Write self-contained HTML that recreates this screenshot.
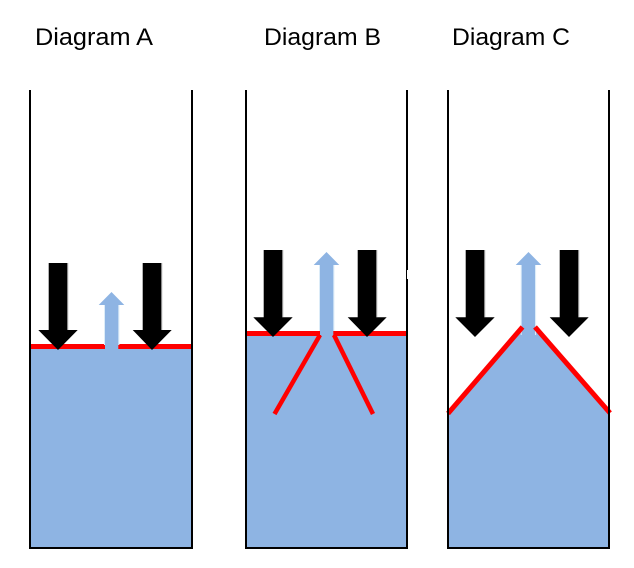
<!DOCTYPE html>
<html>
<head>
<meta charset="utf-8">
<style>
html,body{margin:0;padding:0;background:#fff;width:634px;height:568px;overflow:hidden}
svg{display:block}
text{font-family:"Liberation Sans",sans-serif;font-size:24px;fill:#000}
</style>
</head>
<body>
<svg width="634" height="568" viewBox="0 0 634 568" xmlns="http://www.w3.org/2000/svg">
<rect width="634" height="568" fill="#fff"/>
<text x="35" y="45" textLength="118" lengthAdjust="spacingAndGlyphs">Diagram A</text>
<text x="264" y="45" textLength="117" lengthAdjust="spacingAndGlyphs">Diagram B</text>
<text x="452" y="45" textLength="118" lengthAdjust="spacingAndGlyphs">Diagram C</text>

<!-- Fills -->
<rect x="30" y="348" width="162" height="200" fill="#8eb4e3"/>
<rect x="246" y="335" width="161" height="213" fill="#8eb4e3"/>
<polygon points="448,414 522,328 535,328 609,414 609,548 448,548" fill="#8eb4e3"/>

<!-- Diagram A -->
<rect x="30" y="344" width="162" height="5" fill="#f00"/>
<rect x="67.3" y="263" width="1" height="67" fill="#bbb"/>
<rect x="161.3" y="263" width="1" height="67" fill="#bbb"/>
<polygon points="48.7,263 67.3,263 67.3,330 77.7,330 58,350 38.3,330 48.7,330" fill="#000"/>
<polygon points="142.7,263 161.3,263 161.3,330 171.7,330 152,350 132.7,330 142.7,330" fill="#000"/>
<rect x="104" y="305" width="15.4" height="40" fill="#dcecf8"/>
<polygon points="105,349 105,305 98.7,305 111.5,292 124.3,305 118.3,305 118.3,349" fill="#8eb4e3"/>

<!-- Diagram B -->
<rect x="246" y="331" width="75" height="5" fill="#f00"/>
<rect x="333" y="331" width="74" height="5" fill="#f00"/>
<rect x="282.3" y="250" width="1" height="67" fill="#bbb"/>
<rect x="376.3" y="250" width="1" height="67" fill="#bbb"/>
<polygon points="263.7,250 282.3,250 282.3,317.3 292.7,317.3 273,337 253.3,317.3 263.7,317.3" fill="#000"/>
<polygon points="357.7,250 376.3,250 376.3,317.3 386.7,317.3 367,337 347.7,317.3 357.7,317.3" fill="#000"/>
<rect x="319" y="265" width="15.4" height="66" fill="#dcecf8"/>
<polygon points="320,335 320,265 313.7,265 326.5,252 339.3,265 333.3,265 333.3,335" fill="#8eb4e3"/>
<line x1="320" y1="335" x2="274.5" y2="414" stroke="#f00" stroke-width="4.5"/>
<line x1="334" y1="335" x2="373" y2="414" stroke="#f00" stroke-width="4.5"/>

<!-- Diagram C -->
<rect x="484.3" y="250" width="1" height="67" fill="#bbb"/>
<rect x="578.3" y="250" width="1" height="67" fill="#bbb"/>
<polygon points="465.7,250 484.3,250 484.3,317.3 494.7,317.3 475,337 455.3,317.3 465.7,317.3" fill="#000"/>
<polygon points="559.7,250 578.3,250 578.3,317.3 588.7,317.3 569,337 549.7,317.3 559.7,317.3" fill="#000"/>
<rect x="520.7" y="265" width="15.4" height="70" fill="#dcecf8"/>
<polygon points="521.7,340 521.7,265 515.7,265 528.5,252 541.3,265 535,265 535,340" fill="#8eb4e3"/>
<line x1="448" y1="413.5" x2="522.5" y2="327" stroke="#f00" stroke-width="5"/>
<line x1="535" y1="327" x2="610" y2="413" stroke="#f00" stroke-width="5"/>

<!-- Walls -->
<path d="M30 90V548H192V90" fill="none" stroke="#000" stroke-width="2"/>
<path d="M246 90V548H407V90" fill="none" stroke="#000" stroke-width="2"/>
<path d="M448 90V548H609V90" fill="none" stroke="#000" stroke-width="2"/>
<rect x="407" y="270" width="1" height="9" fill="#fff"/>
</svg>
</body>
</html>
